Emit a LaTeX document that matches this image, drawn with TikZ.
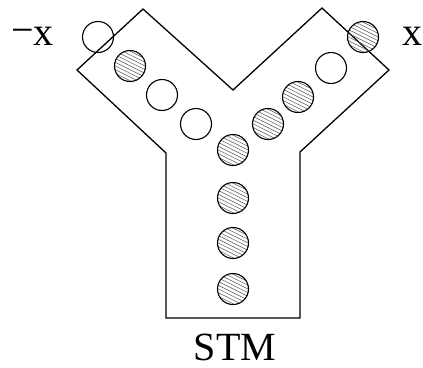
\documentclass[tikz,border=0pt]{standalone}
\usepackage{fontspec}
\setmainfont{Liberation Serif}
\begin{document}
\begin{tikzpicture}[x=1pt,y=-1pt,
  wall/.style={draw=black,line width=1.3pt,line join=miter},
  bead/.style={circle,draw=black,line width=1.1pt,minimum size=31pt,inner sep=0pt},
  open/.style={bead},
  hatched/.style={bead,path picture={
      \foreach \d in {-26,-22.3,...,26}
        \draw[black!65,line width=0.5pt]
          ([shift={(-20pt,-\d pt+10pt)}]path picture bounding box.center)
          -- ++(40pt,-20pt);}},
  lab/.style={font=\fontsize{40}{44}\selectfont,inner sep=0pt}]
\useasboundingbox (0,0) rectangle (423,367);
% Y-shaped channel outline
\draw[wall] (143,9) -- (233,90) -- (322,8) -- (389,70) -- (300,152)
  -- (300,318) -- (166,318) -- (166,153) -- (77,70) -- cycle;
% left arm
\node[open]    (l1) at (98,37)   {};
\node[hatched] (l2) at (130,66)  {};
\node[open]    (l3) at (162,95)  {};
\node[open]    (l4) at (196,124) {};
% junction
\node[hatched] (c0) at (233,150) {};
% right arm
\node[hatched] (r1) at (363,37)  {};
\node[open]    (r2) at (331,68)  {};
\node[hatched] (r3) at (298,97)  {};
\node[hatched] (r4) at (268,124) {};
% stem
\node[hatched] (v1) at (233,198) {};
\node[hatched] (v2) at (233,243) {};
\node[hatched] (v3) at (233,289) {};
% labels
\node[lab,anchor=base east] (mx) at (54,45) {\raisebox{2pt}{−}x};
\node[lab,anchor=base west] (px) at (402,45) {x};
\node[lab,anchor=base] (stm) at (235,360) {STM};
\end{tikzpicture}
\end{document}
